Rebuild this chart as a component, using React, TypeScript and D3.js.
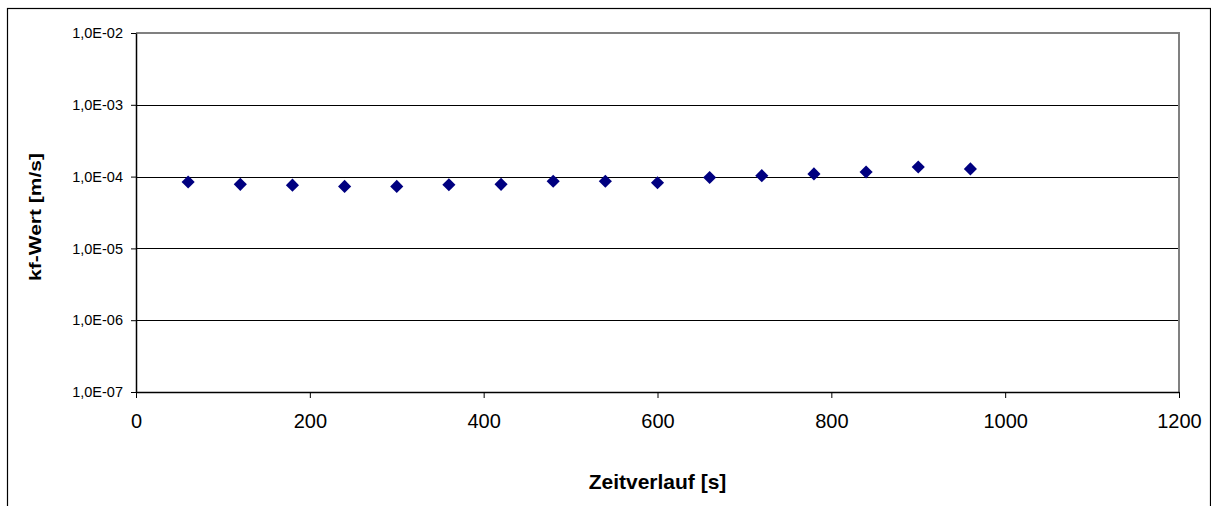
import React, { useEffect, useRef } from 'react'
import * as d3 from 'd3'

// time [s] and kf value [m/s]
const zeit = [60, 120, 180, 240, 300, 360, 420, 480, 540, 600, 660, 720, 780, 840, 900, 960]
const kfWert = [
  8.4e-5, 7.8e-5, 7.6e-5, 7.3e-5, 7.3e-5, 7.7e-5, 7.8e-5, 8.6e-5,
  8.6e-5, 8.2e-5, 9.7e-5, 1.03e-4, 1.09e-4, 1.16e-4, 1.36e-4, 1.28e-4,
]
const xTicks = [0, 200, 400, 600, 800, 1000, 1200]
const yTicks = [1e-7, 1e-6, 1e-5, 1e-4, 1e-3, 1e-2]

const W = 1211
const H = 506
const font = '"Liberation Sans", Arial, sans-serif'

const fmtY = (d: number) => {
  const e = Math.round(Math.log10(d))
  return '1,0E' + (e < 0 ? '-' : '+') + String(Math.abs(e)).padStart(2, '0')
}

export default function App() {
  const ref = useRef<SVGSVGElement>(null)

  useEffect(() => {
    const svg = d3.select(ref.current)
    svg.selectAll('*').remove()

    const plot = { left: 136, right: 1179, top: 33, bottom: 392 }
    const x = d3.scaleLinear().domain([0, 1200]).range([plot.left, plot.right])
    const y = d3.scaleLog().domain([1e-7, 1e-2]).range([plot.bottom, plot.top])

    // outer chart frame (runs off the bottom/right of the picture)
    svg.append('rect')
      .attr('x', 7.5).attr('y', 8.5)
      .attr('width', 1203).attr('height', 520)
      .attr('fill', 'white')
      .attr('stroke', '#000').attr('stroke-width', 1.2)

    // grid lines
    svg.append('g')
      .selectAll('line')
      .data(yTicks.slice(1, -1))
      .enter()
      .append('line')
      .attr('x1', plot.left).attr('x2', plot.right)
      .attr('y1', d => Math.round(y(d)) + 0.5).attr('y2', d => Math.round(y(d)) + 0.5)
      .attr('stroke', '#000').attr('stroke-width', 1)

    // plot area border, grey top and right
    svg.append('path')
      .attr('d', `M${plot.left},${plot.top}H${plot.right}V${plot.bottom}`)
      .attr('fill', 'none')
      .attr('stroke', '#808080').attr('stroke-width', 2)

    const xAxis = svg.append('g')
      .attr('transform', `translate(0,${plot.bottom})`)
      .call(d3.axisBottom(x).tickValues(xTicks).tickFormat(d => String(d)).tickSize(6).tickSizeOuter(0).tickPadding(16))
    xAxis.select('.domain').attr('stroke', '#000').attr('stroke-width', 1.5)
    xAxis.selectAll('.tick line').attr('stroke', '#000')
    xAxis.selectAll('text')
      .attr('font-family', font).attr('font-size', 20).attr('fill', '#000')

    const yAxis = svg.append('g')
      .attr('transform', `translate(${plot.left},0)`)
      .call(d3.axisLeft(y).tickValues(yTicks).tickFormat(d => fmtY(d as number)).tickSize(5).tickSizeOuter(0).tickPadding(8))
    yAxis.select('.domain').attr('stroke', '#000').attr('stroke-width', 1.5)
    yAxis.selectAll('.tick line').attr('stroke', '#000')
    yAxis.selectAll('text')
      .attr('font-family', font).attr('font-size', 14.5).attr('fill', '#000')

    // data markers
    const diamond = d3.symbol().type(d3.symbolDiamond2).size(110)
    svg.append('g')
      .selectAll('path')
      .data(zeit.map((t, i) => ({ t, v: kfWert[i] })))
      .enter()
      .append('path')
      .attr('d', diamond)
      .attr('transform', d => `translate(${x(d.t)},${y(d.v)})`)
      .attr('fill', '#000080')

    svg.append('text')
      .attr('x', (plot.left + plot.right) / 2)
      .attr('y', 489)
      .attr('text-anchor', 'middle')
      .attr('font-family', font).attr('font-weight', 'bold').attr('font-size', 21)
      .text('Zeitverlauf [s]')

    svg.append('text')
      .attr('transform', 'translate(35,217) rotate(-90) scale(1,0.8)')
      .attr('text-anchor', 'middle')
      .attr('dominant-baseline', 'central')
      .attr('font-family', font).attr('font-weight', 'bold').attr('font-size', 21)
      .text('kf-Wert [m/s]')
  }, [])

  return (
    <svg
      ref={ref}
      width={W}
      height={H}
      style={{ position: 'fixed', left: 0, top: 0, background: 'white' }}
    />
  )
}
